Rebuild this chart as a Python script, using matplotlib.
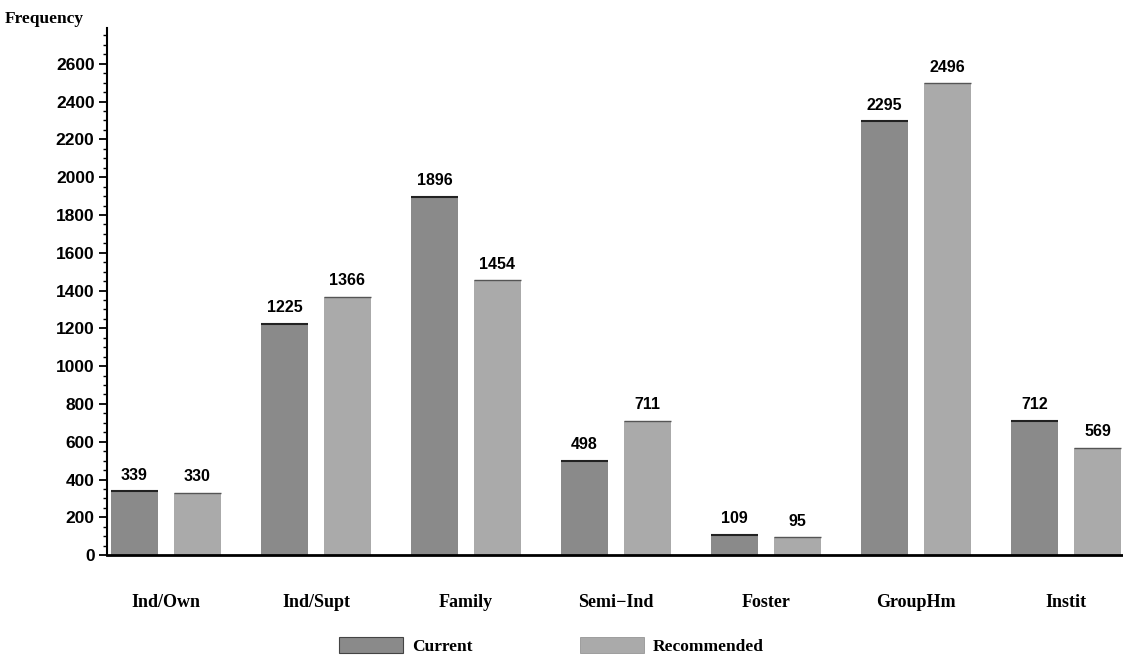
import matplotlib
matplotlib.use("Agg")
import matplotlib.pyplot as plt
import numpy as np
from matplotlib.ticker import MultipleLocator
from matplotlib.patches import Patch

categories = ["Ind/Own", "Ind/Supt", "Family", "Semi\u2212Ind", "Foster", "GroupHm", "Instit"]
current = [339, 1225, 1896, 498, 109, 2295, 712]
recommended = [330, 1366, 1454, 711, 95, 2496, 569]
series_names = ["Current", "Recommended"]

c_cur = "#8a8a8a"
c_rec = "#aaaaaa"

fig = plt.figure(figsize=(11.23, 6.64), dpi=100)
ax = fig.add_axes([0.0953, 0.164, 0.9047, 0.794])

x = np.arange(len(categories))
w = 0.31
off = 0.21
ax.bar(x - off, current, w, color=c_cur, edgecolor="none")
ax.bar(x + off, recommended, w, color=c_rec, edgecolor="none")
# dark top edges
ax.hlines(current, x - off - w / 2, x - off + w / 2, color="#222222", lw=1.5)
ax.hlines(recommended, x + off - w / 2, x + off + w / 2, color="#555555", lw=1.0)

lab_font = dict(family="Liberation Sans", fontweight="bold", fontsize=11.5)
for xi, v in zip(x - off, current):
    ax.text(xi, v + 45, f"{v}", ha="center", va="bottom", **lab_font)
for xi, v in zip(x + off, recommended):
    ax.text(xi, v + 45, f"{v}", ha="center", va="bottom", **lab_font)

ax.set_xlim(-0.393, 6.38)
ax.set_ylim(0, 2790)
ax.yaxis.set_major_locator(MultipleLocator(200))
ax.yaxis.set_minor_locator(MultipleLocator(50))
ax.tick_params(axis="y", which="major", length=6, width=1.3, direction="out",
               labelsize=12.5, pad=3)
ax.tick_params(axis="y", which="minor", length=3, width=1.0, direction="out")
for t in ax.get_yticklabels():
    t.set_fontweight("bold")
    t.set_family("Liberation Sans")
ax.set_xticks(x)
ax.set_xticklabels(categories, family="Liberation Serif", fontweight="bold", fontsize=13)
ax.tick_params(axis="x", length=0, pad=28)

for s in ["top", "right"]:
    ax.spines[s].set_visible(False)
ax.spines["left"].set_linewidth(1.5)
ax.spines["bottom"].set_linewidth(2.0)

fig.text(0.004, 0.972, "Frequency", family="Liberation Serif", fontweight="bold",
         fontsize=12.5, ha="left", va="center")

handles = [Patch(facecolor=c_cur, edgecolor="#444444", lw=0.8),
           Patch(facecolor=c_rec, edgecolor="#888888", lw=0.5)]
fig.legend(handles, series_names, loc="center", bbox_to_anchor=(0.491, 0.027),
           ncol=2, frameon=False, handlelength=3.7, handleheight=1.0,
           columnspacing=6.2, handletextpad=0.5,
           prop=dict(family="Liberation Serif", weight="bold", size=12.5))

fig.savefig("out.png", dpi=100)
